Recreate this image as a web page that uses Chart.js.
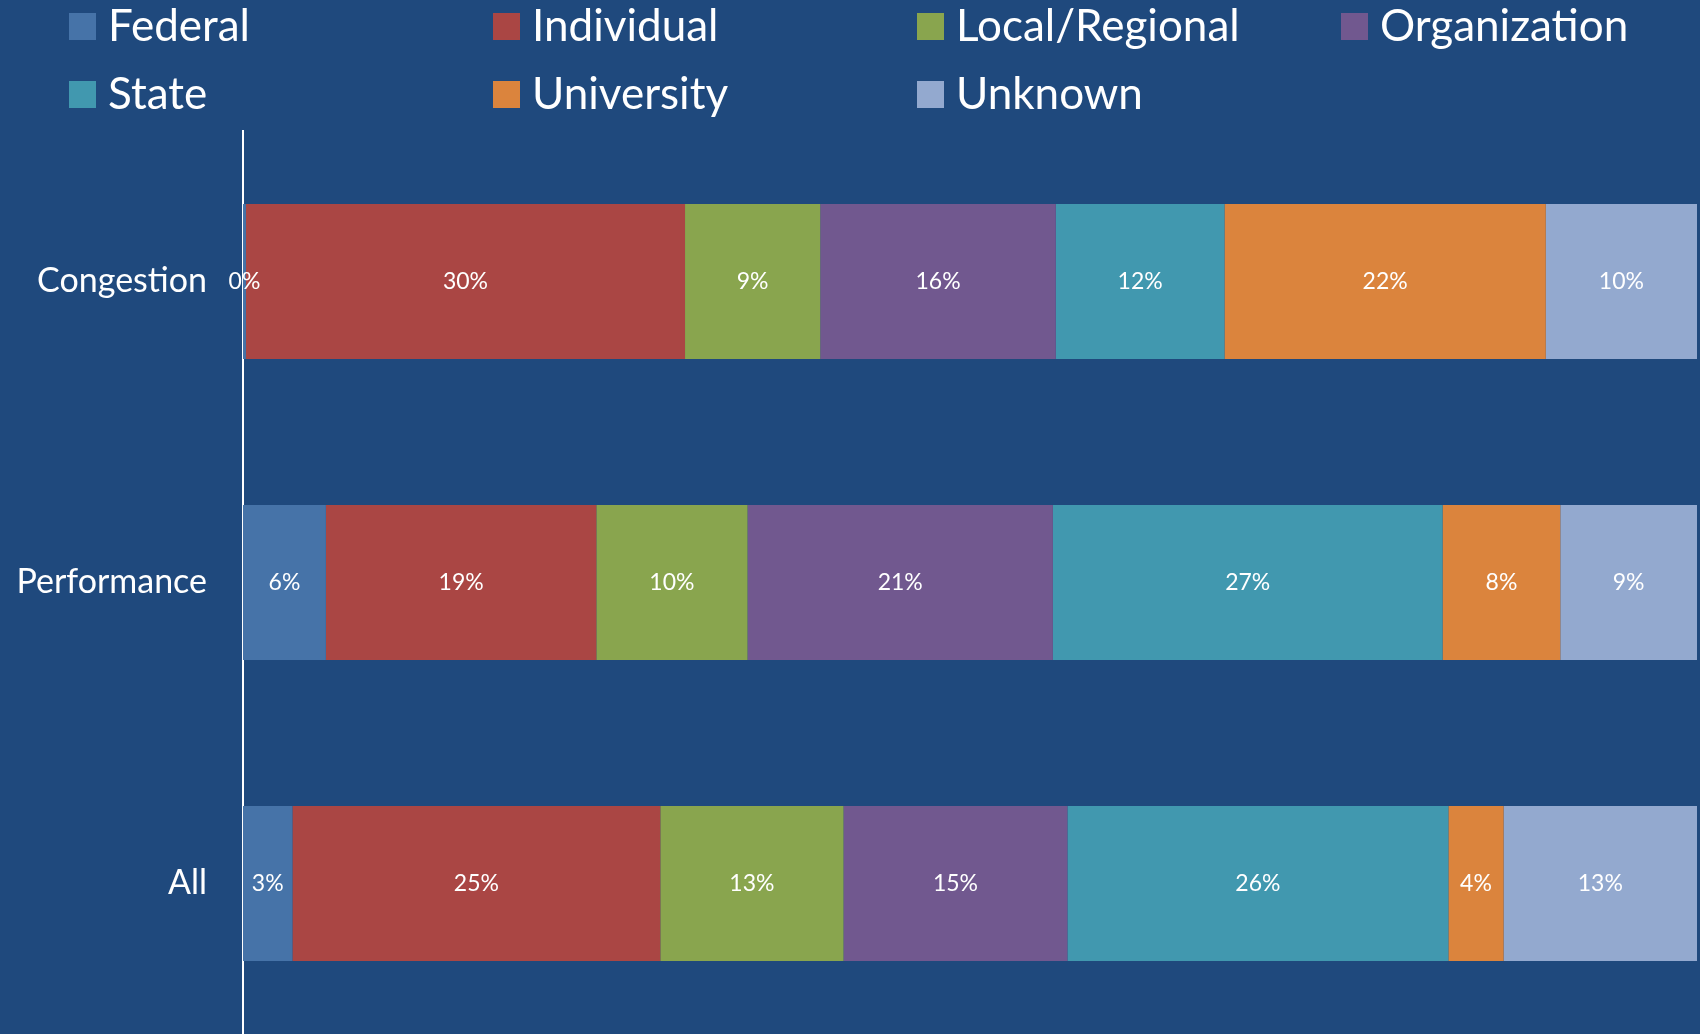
<!DOCTYPE html>
<html>
<head>
<meta charset="utf-8">
<title>Funding source by topic</title>
<script src="https://cdn.jsdelivr.net/npm/chart.js@4"></script>
<style>
    body { margin: 0; background: #1f497d; }
    canvas { display: block; }
</style>
</head>
<body>
<canvas id="grafica" width="1700" height="1034"></canvas>
<script>
const categories = ['Congestion', 'Performance', 'All'];
const sources = ['Federal', 'Individual', 'Local/Regional', 'Organization', 'State', 'University', 'Unknown'];
const colors = ['#4673a8', '#aa4644', '#89a54e', '#71588f', '#4198af', '#db843d', '#93a9cf'];

// percent of studies per funding source, one array per source (Congestion, Performance, All)
const federal = [0.2, 5.7, 3.4];
const individual = [30.2, 18.6, 25.3];
const localRegional = [9.3, 10.4, 12.6];
const organization = [16.2, 21.0, 15.4];
const state = [11.6, 26.8, 26.2];
const university = [22.1, 8.1, 3.8];
const unknown = [10.4, 9.4, 13.3];

const seriesValues = [federal, individual, localRegional, organization, state, university, unknown];

const fontFamily = 'Lato, "Open Sans", sans-serif';

// legend in 4 columns, drawn above the chart area
const legendGrid = {
    id: 'legendGrid',
    afterDraw(chart) {
        const ctx = chart.ctx;
        ctx.save();
        ctx.font = '44px ' + fontFamily;
        ctx.textBaseline = 'middle';
        chart.data.datasets.forEach((ds, i) => {
            const col = i % 4;
            const row = Math.floor(i / 4);
            const x = 69 + col * 424;
            const y = 13 + row * 68;
            ctx.fillStyle = ds.backgroundColor;
            ctx.fillRect(x, y, 27, 27);
            ctx.fillStyle = '#ffffff';
            ctx.fillText(ds.label, x + 39, y + 14);
        });
        ctx.restore();
    }
};

// percent labels in the middle of each segment
const segmentLabels = {
    id: 'segmentLabels',
    afterDatasetsDraw(chart) {
        const ctx = chart.ctx;
        ctx.save();
        ctx.font = '23px ' + fontFamily;
        ctx.fillStyle = '#ffffff';
        ctx.textAlign = 'center';
        ctx.textBaseline = 'middle';
        chart.data.datasets.forEach((ds, i) => {
            const meta = chart.getDatasetMeta(i);
            meta.data.forEach((bar, j) => {
                const cx = (bar.x + bar.base) / 2;
                ctx.fillText(Math.round(ds.data[j]) + '%', cx, bar.y);
            });
        });
        ctx.restore();
    }
};

function main() {
    const ctx = document.getElementById('grafica').getContext('2d');

    const datasets = sources.map((name, i) => ({
        label: name,
        data: seriesValues[i],
        backgroundColor: colors[i],
        borderWidth: 0,
        barPercentage: 0.515,
        categoryPercentage: 1
    }));

    new Chart(ctx, {
        type: 'bar',
        data: { labels: categories, datasets: datasets },
        options: {
            indexAxis: 'y',
            responsive: false,
            animation: false,
            layout: { padding: { top: 131, right: 3, bottom: -2, left: 0 } },
            plugins: {
                legend: { display: false },
                tooltip: { enabled: false }
            },
            scales: {
                x: {
                    stacked: true,
                    display: false,
                    min: 0,
                    max: 100
                },
                y: {
                    stacked: true,
                    grid: { display: false },
                    border: { display: true, color: '#ffffff', width: 2 },
                    ticks: {
                        color: '#ffffff',
                        padding: 28,
                        font: { family: fontFamily, size: 34 }
                    },
                    afterFit: (scale) => {
                        scale.width = 243;
                        // labels sit inside their bands, no extra room needed above/below
                        scale.paddingTop = 0;
                        scale.paddingBottom = 0;
                    }
                }
            }
        },
        plugins: [legendGrid, segmentLabels]
    });
}

document.addEventListener('DOMContentLoaded', function() {
    main();
});
</script>
</body>
</html>
